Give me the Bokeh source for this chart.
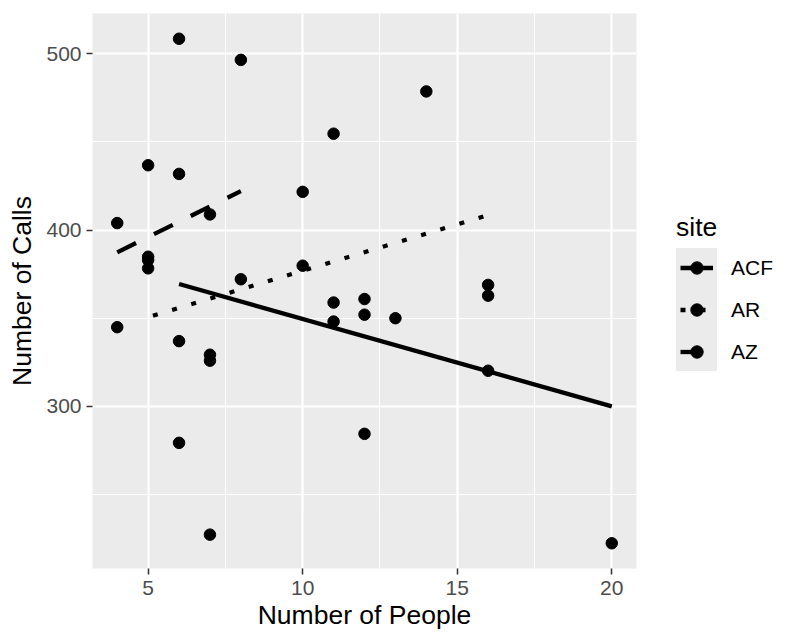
from bokeh.plotting import figure
from bokeh.layouts import row
from bokeh.models import Range1d, SingleIntervalTicker, Legend, LegendItem
from bokeh.embed import file_html
from bokeh.resources import INLINE

# ---- data ----
people = [6, 8, 14, 11, 5, 6, 10, 7, 4, 5, 5, 5, 10, 8, 16,
          16, 12, 12, 11, 11, 13, 4, 6, 7, 7, 16, 12, 6, 7, 20]
calls = [508.6, 496.6, 478.7, 454.7, 436.8, 431.9, 421.7, 408.9, 404.0, 384.9,
         383.0, 378.3, 379.8, 372.1, 368.9, 362.8, 360.9, 352.0, 358.9, 348.1,
         350.0, 344.9, 337.0, 329.3, 325.9, 320.2, 284.4, 279.3, 227.2, 222.3]

sites = ["ACF", "AR", "AZ"]
acf_fit_x = [6, 20]
acf_fit_y = [369.4, 300.0]
ar_fit_x = [5, 16]
ar_fit_y = [350.6, 408.5]
az_fit_x = [4, 8]
az_fit_y = [387.4, 422.1]

FONT = "Liberation Sans"
LW = 4.3
DASHES = {"ACF": "solid", "AR": "5 15", "AZ": "21 20"}
TICK_SIZE = "21px"
TITLE_SIZE = "26.5px"

# ggplot-like 5% expansion
def expand(vals, f=0.05):
    lo, hi = min(vals), max(vals)
    d = (hi - lo) * f
    return lo - d, hi + d

x0, x1 = expand(people)
y0, y1 = expand(calls)

MAIN_W = 656
p = figure(width=MAIN_W, height=644, x_range=Range1d(x0, x1), y_range=Range1d(y0, y1),
           output_backend="svg", toolbar_location=None,
           min_border_left=92, min_border_right=20, min_border_top=13, min_border_bottom=76,
           background_fill_color="#EBEBEB", border_fill_color="white")
p.outline_line_color = None

p.xaxis.ticker = SingleIntervalTicker(interval=5, num_minor_ticks=2)
p.yaxis.ticker = SingleIntervalTicker(interval=100, num_minor_ticks=2)

for g in (p.xgrid, p.ygrid):
    g.grid_line_color = "white"
    g.grid_line_width = 2.2
    g.minor_grid_line_color = "white"
    g.minor_grid_line_width = 1.1

for ax in (p.xaxis, p.yaxis):
    ax.axis_line_color = None
    ax.major_tick_line_color = "#333333"
    ax.major_tick_line_width = 1.5
    ax.major_tick_out = 6
    ax.major_tick_in = 0
    ax.minor_tick_line_color = None
    ax.major_label_text_color = "#4D4D4D"
    ax.major_label_text_font = FONT
    ax.major_label_text_font_size = TICK_SIZE
    ax.axis_label_text_font = FONT
    ax.axis_label_text_font_size = TITLE_SIZE
    ax.axis_label_text_font_style = "normal"
    ax.axis_label_text_color = "black"

p.xaxis.axis_label = "Number of People"
p.yaxis.axis_label = "Number of Calls"
p.xaxis.major_label_standoff = 6
p.yaxis.major_label_standoff = 5
p.xaxis.axis_label_standoff = 2
p.yaxis.axis_label_standoff = 6

p.scatter(people, calls, size=11.5, color="black")
p.line(acf_fit_x, acf_fit_y, line_width=LW, color="black", line_dash=DASHES["ACF"])
p.line(ar_fit_x, ar_fit_y, line_width=LW, color="black", line_dash=DASHES["AR"],
       line_dash_offset=15)
p.line(az_fit_x, az_fit_y, line_width=LW, color="black", line_dash=DASHES["AZ"])

# ---- legend panel (separate canvas so it is not clipped by the plot frame) ----
LEG_W = 800 - MAIN_W
q = figure(width=LEG_W, height=644, x_range=Range1d(0, 1), y_range=Range1d(0, 1),
           output_backend="svg", toolbar_location=None,
           x_axis_location=None, y_axis_location=None,
           min_border=0, min_border_left=0, min_border_right=0,
           min_border_top=0, min_border_bottom=0,
           background_fill_color="white", border_fill_color="white")
q.outline_line_color = None
q.grid.visible = False

# renderers carrying the key styles (their data lie outside this canvas' range)
k_pts = q.scatter(people, calls, size=11.5, color="black")
k_lines = {
    "ACF": q.line(acf_fit_x, acf_fit_y, line_width=LW, color="black", line_dash=DASHES["ACF"]),
    "AR": q.line(ar_fit_x, ar_fit_y, line_width=LW, color="black", line_dash=DASHES["AR"]),
    "AZ": q.line(az_fit_x, az_fit_y, line_width=LW, color="black", line_dash=DASHES["AZ"]),
}
dummy = q.scatter(people[:1], calls[:1], size=1, alpha=0)

# grey key box (border colour set, but invisible, so that the padding is applied)
legA = Legend(items=[LegendItem(label=" ", renderers=[k_lines[s], k_pts]) for s in sites],
              location=(20, 197), orientation="vertical",
              glyph_width=33, glyph_height=31, spacing=11, padding=4, margin=0,
              label_width=0, label_height=0, label_standoff=0,
              label_text_font_size="1px",
              background_fill_color="#EBEBEB", background_fill_alpha=1.0,
              border_line_color="#EBEBEB", border_line_alpha=0.0)

legB = Legend(items=[LegendItem(label=s, renderers=[dummy]) for s in sites],
              location=(20, 201), orientation="vertical",
              glyph_width=41, glyph_height=31, spacing=11, padding=0, margin=0,
              label_standoff=14, label_text_font=FONT, label_text_font_size=TICK_SIZE,
              label_text_color="black",
              title="site", title_text_font=FONT, title_text_font_size=TITLE_SIZE,
              title_text_font_style="normal", title_text_color="black", title_standoff=9,
              background_fill_alpha=0, border_line_color=None)

q.add_layout(legA, "center")
q.add_layout(legB, "center")

layout = row(p, q)
open("out.html", "w").write(file_html(layout, INLINE))
